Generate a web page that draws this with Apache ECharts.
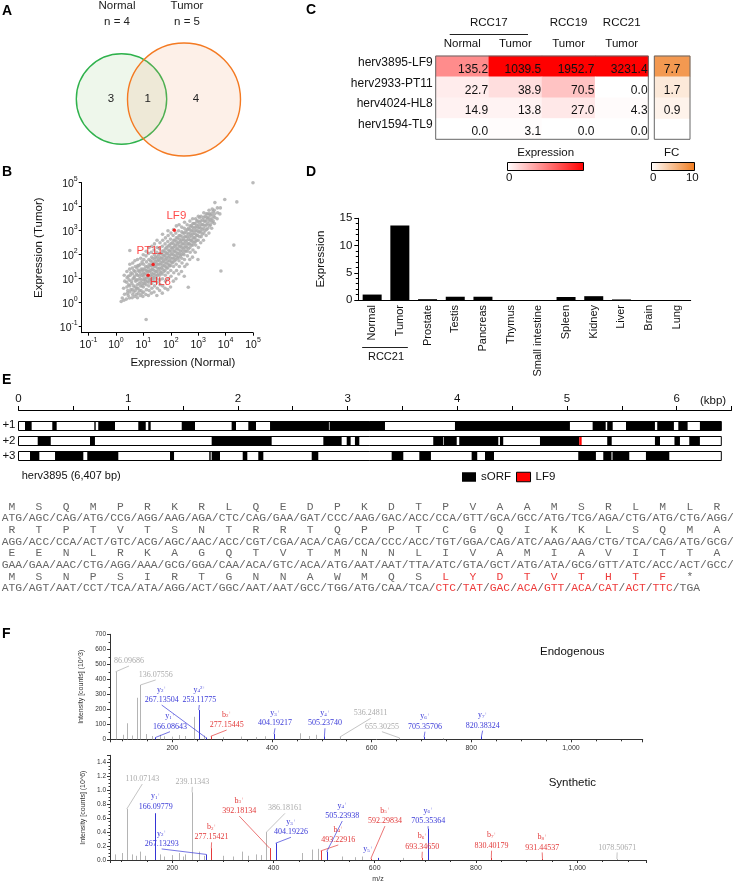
<!DOCTYPE html>
<html><head><meta charset="utf-8"><title>chart</title>
<script src="https://cdn.jsdelivr.net/npm/echarts@6.0.0/dist/echarts.min.js"></script>
<style>html,body{margin:0;padding:0;background:#fff;}#chart{width:740px;height:882px;}</style>
</head><body><div id="chart"></div>
<script>
// ================= DATA =================
// A: Venn
const vennSets = ['Normal', 'Tumor'];
const vennN = [4, 5];
const vennCounts = [3, 1, 4]; // normal only, shared, tumor only

// B: scatter (expression normal, expression tumor)
const bgPoints = [
[1.55,1.12],[1.7,1.58],
[1.95,1.26],[2.05,2.24],[1.9,4.0],[2.1,7.9],[2.0,14],
[2.4,1.41],[2.6,2.5],[2.5,4.5],[2.45,7.1],[2.55,11],[2.5,20],[2.7,3.2],
[3.1,1.58],[3.25,2.8],[3.2,5.0],[3.0,8.9],[3.3,14],[3.15,25],[3.2,40],[3.2,150],
[3.9,1.6],[4.1,2.2],[4.0,3.5],[3.8,6.3],[4.2,10],[4.0,16],[3.95,28],[4.1,45],
[4.9,1.8],[5.1,3.2],[5.0,4.5],[5.2,7.9],[4.8,12.6],[5.0,20],[5.1,32],[4.9,56],
[6.1,1.6],[6.5,2.5],[6.3,4.0],[6.0,5.6],[6.4,8.9],[6.2,14],[6.6,22],[6.3,35],[6.1,63],
[7.7,2.0],[8.2,3.2],[7.9,5.0],[8.1,7.1],[7.6,10],[8.0,16],[8.3,25],[7.8,40],[8.0,71],
[9.6,1.8],[10.3,2.8],[10,4.5],[9.8,6.3],[10.5,8.9],[9.9,12.6],[10.2,17.8],[9.7,25],[10.1,40],[10.4,63],[9.9,100],
[12.3,2.2],[12.9,3.5],[12.6,5.6],[12.0,7.9],[13.1,11],[12.4,15.8],[12.8,22],[12.2,32],[13.0,50],[12.5,89],[12.7,140],[12.6,0.2],
[15.3,2.0],[16.2,3.2],[15.8,5.0],[15.5,7.1],[16.4,10],[15.6,14],[16,20],[15.2,28],[16.5,40],[15.9,63],[15.4,112],[16.1,200],
[19.5,2.5],[20.5,4.0],[20,6.3],[19.2,8.9],[20.8,12.6],[19.8,17.8],[20.3,25],[19.6,35],[20.6,50],[20.1,79],[19.4,126],[20.4,224],
[24.5,2.8],[25.6,5.0],[25,7.9],[24.2,11],[25.9,15.8],[24.8,22],[25.3,32],[24.6,45],[25.7,63],[25.1,100],[24.4,158],[25.4,282],
[31,2.0],[32.3,4.0],[31.6,7.1],[30.8,10],[32.6,14],[31.3,20],[31.9,28],[31.1,40],[32.4,56],[31.7,79],[30.9,126],[32.1,200],[31.5,398],
[39,3.2],[40.8,5.6],[39.8,8.9],[38.9,14],[41,20],[39.4,28],[40.2,40],[39.1,56],[40.6,79],[39.7,112],[38.8,178],[40.4,316],
[49,2.5],[51,5.0],[50,10],[48.7,15.8],[51.5,25],[49.6,35],[50.5,50],[49.2,71],[51.1,100],[50.2,141],[48.9,224],[50.8,398],[50,708],
[62,4.0],[64.5,7.9],[63,14],[61.5,22],[65,32],[62.5,45],[63.7,63],[62.1,89],[64.2,126],[63.3,178],[61.8,282],[64,501],
[78,3.5],[80.5,10],[79,17.8],[77.5,28],[81.2,40],[78.6,56],[80,79],[78.2,112],[80.8,158],[79.5,224],[77.8,355],[80.2,631],[79,1000],
[98,4.5],[102,12.6],[100,22],[97,35],[103,50],[99,71],[101,100],[98.5,141],[102.5,200],[100.5,282],[97.5,447],[101.5,794],
[124,7.9],[129,17.8],[126,32],[122,50],[130,71],[125,100],[127.5,141],[123,200],[128.5,282],[126.5,398],[121.5,631],[127,1122],
[155,10],[162,22],[158,40],[153,63],[163,89],[157,126],[160,178],[154.5,251],[161.5,355],[158.5,501],[152.5,794],[159.5,1585],
[196,15.8],[205,32],[200,56],[193,79],[206,112],[198,158],[202,224],[195,316],[204,447],[200.5,631],[192.5,1000],[201,1778],
[246,20],[257,45],[251,71],[243,100],[259,141],[249,200],[254,282],[245,398],[256,562],[252,891],[250,1413],
[310,12.6],[323,32],[316,63],[306,100],[325,141],[313,200],[319,282],[308,398],[322,562],[315,794],[311,1259],[318,2239],
[390,40],[406,89],[398,141],[386,200],[410,282],[394,398],[401,562],[389,794],[405,1122],[396,1778],[436,4.4],
[491,63],[511,126],[501,200],[486,282],[515,398],[496,562],[505,794],[489,1122],[509,1585],[499,2512],
[619,79],[644,158],[631,251],[612,355],[648,501],[625,708],[636,1000],[616,1413],[641,1995],[628,3162],
[779,126],[810,251],[794,355],[771,501],[816,708],[787,1000],[800,1413],[776,1995],[806,3162],
[980,63],[1020,200],[1000,398],[970,631],[1030,891],[992,1259],[1010,1778],[975,2512],[1015,3981],
[1235,316],[1284,562],[1259,891],[1222,1259],[1297,1778],[1246,2512],[1271,3981],
[1555,398],[1617,794],[1585,1259],[1538,1778],[1632,2512],[1570,3548],[1600,5623],
[1955,631],[2035,1122],[1995,1778],[1936,2512],[2055,3548],[1975,5012],
[2462,794],[2562,1585],[2512,2512],[2437,3548],[2587,5012],[2487,7079],
[3100,1259],[3225,2239],[3162,3162],[3068,5012],[3257,7943],
[3900,1995],[4060,3548],[3981,5012],[3862,7079],[4070,14800],
[4910,3162],[5110,5623],[5012,8913],[6180,5012],[6440,8913],
[6760,21],[9330,19950],[19950,251],[25700,15850],[100000,100000],
[11.2,6.3],[11.4,10],[11,15.8],[11.3,25],[14.1,7.9],[14.4,12.6],[13.9,20],[14.2,32],
[17.8,8.9],[18.1,14],[17.5,22],[17.9,35],[18.2,56],[22.4,10],[22.8,15.8],[22,25],[22.6,40],[22.2,71],
[28.2,12.6],[28.6,20],[27.8,32],[28.4,50],[28,79],[35.5,15.8],[36,25],[35,40],[35.8,63],[35.2,100],
[44.7,17.8],[45.3,28],[44.1,45],[45,71],[44.4,112],[56.2,20],[57,35],[55.5,56],[56.6,89],[55.9,141],
[70.8,28],[71.8,45],[70,71],[71.3,112],[70.4,200],
[89,35],[90,56],[88,89],[89.6,141],[88.5,251],[112,45],[113,71],[111,112],[112.5,178],[111.5,316],
[141,56],[142,89],[140,141],[141.5,224],[140.5,398],[178,71],[179.5,112],[177,178],[178.5,282],[177.5,501],
[224,89],[226,141],[223,224],[225,355],[222,631],[282,112],[284,178],[280,282],[283,447],[281,794],
[355,141],[358,224],[353,355],[356,562],[354,1000],[447,178],[450,282],[445,447],[448,708],[446,1259],
[562,251],[566,398],[559,631],[564,1000],[561,1585],[708,316],[713,501],[704,794],[710,1259],[706,1995],
[891,398],[897,631],[886,1000],[894,1585],[889,2512],[1122,562],[1130,891],[1115,1413],[1126,2239],[1118,3548],
[1413,708],[1422,1122],[1405,1778],[1418,2818],[1778,1000],[1790,1585],[1768,2512],[1784,3981],
[2239,1259],[2254,1995],[2226,3162],[2246,5012],[2818,1778],[2836,2818],[2802,4467],[3548,2512],[3570,3981],[3530,6310],
[2.8,2.0],[2.9,5.6],[2.8,12.6],[3.5,3.5],[3.6,7.9],[3.5,17.8],[4.5,2.8],[4.4,5.0],[4.6,11],[4.5,22],
[5.6,2.2],[5.7,4.0],[5.5,8.9],[5.6,15.8],[5.8,28],[7.1,3.2],[7.0,6.3],[7.2,12.6],[7.1,20],[6.9,35],
[8.9,2.5],[9.0,5.0],[8.8,8.9],[9.1,14],[8.9,22],[9.0,50]
];
const hlNames = ['LF9', 'PT11', 'HL8'];
const hlNormal = [135.2, 22.7, 14.9];
const hlTumor = [1039.5, 38.9, 13.8];

// C: heatmap
const heatRows = ['herv3895-LF9', 'herv2933-PT11', 'herv4024-HL8', 'herv1594-TL9'];
const heatPatients = ['RCC17', 'RCC17', 'RCC19', 'RCC21'];
const heatTissues = ['Normal', 'Tumor', 'Tumor', 'Tumor'];
const heatValues = [
  [135.2, 1039.5, 1952.7, 3231.4],
  [22.7, 38.9, 70.5, 0.0],
  [14.9, 13.8, 27.0, 4.3],
  [0.0, 3.1, 0.0, 0.0]
];
const fcValues = [7.7, 1.7, 0.9, null];
const exprScale = [0, 300];
const fcScale = [0, 10];

// D: bar chart
const tissueNames = ['Normal', 'Tumor', 'Prostate', 'Testis', 'Pancreas', 'Thymus', 'Small intestine', 'Spleen', 'Kidney', 'Liver', 'Brain', 'Lung'];
const tissueExpr = [1.0, 13.7, 0.15, 0.6, 0.6, 0, 0, 0.55, 0.7, 0.1, 0, 0];
const tissueGroupName = 'RCC21';
const tissueGroupMembers = [0, 1];

// E: ORF map (kbp)
const hervName = 'herv3895';
const hervLengthBp = 6407;
const frameNames = ['+1', '+2', '+3'];
const frame1Blocks = [[0.059,0.120],[0.308,0.348],[0.691,0.704],[0.727,0.880],[1.092,1.160],[1.183,1.205],[1.488,1.609],[1.943,1.983],[2.095,2.165],[2.293,2.830],[2.836,3.341],[3.979,5.027],[5.234,5.353],[5.367,5.417],[5.538,5.802],[5.823,5.975],[6.015,6.100],[6.212,6.407]];
const frame2Blocks = [[0.175,0.294],[0.652,0.697],[1.761,2.308],[2.779,2.946],[2.992,3.028],[3.067,3.107],[3.781,3.870],[3.876,3.995],[4.018,4.374],[4.389,4.419],[4.754,5.112],[5.367,5.408],[5.802,5.848],[5.980,6.030],[6.115,6.212]];
const frame3Blocks = [[0.105,0.190],[0.333,0.591],[0.627,0.910],[1.381,1.418],[1.739,1.752],[1.761,1.837],[2.044,2.086],[2.186,2.232],[2.673,2.733],[3.402,3.508],[3.654,3.760],[4.131,4.182],[4.253,4.335],[5.103,5.264],[5.331,5.406],[5.415,5.568],[5.720,5.933]];
const lf9Block = [5.112, 5.134, 2];
const seqAminoRows = ['MSQMPRKRLQEDPKDTPVAAMSRLMLR', 'RTPTVTSNTRRTQPPTCGQIKKLSQMA', 'EENLRKAGQTVTMNNLIVAMIAVITTA', 'MSNPSIRTGNNAWMQSLYDTVTHTF*'];
const seqCodonRows = [
  'ATG AGC CAG ATG CCG AGG AAG AGA CTC CAG GAA GAT CCC AAG GAC ACC CCA GTT GCA GCC ATG TCG AGA CTG ATG CTG AGG',
  'AGG ACC CCA ACT GTC ACG AGC AAC ACC CGT CGA ACA CAG CCA CCC ACC TGT GGA CAG ATC AAG AAG CTG TCA CAG ATG GCG',
  'GAA GAA AAC CTG AGG AAA GCG GGA CAA ACA GTC ACA ATG AAT AAT TTA ATC GTA GCT ATG ATA GCG GTT ATC ACC ACT GCC',
  'ATG AGT AAT CCT TCA ATA AGG ACT GGC AAT AAT GCC TGG ATG CAA TCA CTC TAT GAC ACA GTT ACA CAT ACT TTC TGA'
];
const lf9Row = 3, lf9FirstCodon = 16, lf9LastCodon = 24;

// F: spectra  [m/z, intensity, type(0 unassigned,1 y-ion,2 b-ion)]
const endoPeaks = [[86.10,450,0],[101.07,30,0],[110.07,107,0],[120.08,25,0],[129.10,277,0],[136.08,362,0],[147.11,35,0],[159.09,22,0],[166.09,12,1],[175.12,30,0],[183.15,20,0],[199.11,18,0],[213.09,28,0],[226.12,22,0],[243.13,150,0],[253.12,195,1],[263.14,25,0],[267.14,12,1],[277.15,20,2],[301.13,15,0],[338.17,18,0],[368.18,15,0],[386.18,20,0],[404.19,35,1],[457.23,40,0],[475.21,22,0],[488.22,30,0],[505.24,20,1],[536.25,15,0],[655.30,10,0],[705.36,15,1],[742.40,8,0],[820.38,20,1]];
const endoLabels = [
  [86.10,450,0,'','','','86.09686'],[136.08,362,0,'','','','136.07556'],[166.09,12,1,'y','1','+','166.08643'],
  [267.14,12,1,'y','2','+','267.13504'],[253.12,195,1,'y','4','2+','253.11775'],[277.15,20,2,'b','2','+','277.15445'],
  [404.19,35,1,'y','3','+','404.19217'],[505.24,20,1,'y','4','+','505.23740'],[536.25,15,0,'','','','536.24811'],
  [655.30,10,0,'','','','655.30255'],[705.36,15,1,'y','6','+','705.35706'],[820.38,20,1,'y','7','+','820.38324']
];
const synPeaks = [[86.10,0.08,0],[101.07,0.10,0],[110.07,0.73,0],[120.08,0.08,0],[129.10,0.06,0],[136.08,0.12,0],[147.11,0.06,0],[166.10,0.67,1],[175.12,0.08,0],[183.15,0.05,0],[199.11,0.07,0],[213.09,0.10,0],[222.10,0.05,0],[226.12,0.08,0],[239.11,0.97,0],[253.12,0.12,0],[263.14,0.06,0],[267.13,0.08,1],[277.15,0.17,2],[301.13,0.06,0],[320.20,0.05,0],[338.17,0.12,0],[350.20,0.06,0],[365.20,0.08,0],[375.20,0.07,0],[386.18,0.40,0],[392.18,0.17,2],[404.19,0.24,1],[457.23,0.10,0],[475.21,0.15,0],[488.22,0.16,0],[493.23,0.13,2],[505.24,0.12,1],[536.25,0.05,0],[560.30,0.04,0],[575.30,0.05,0],[592.30,0.02,2],[606.30,0.03,1],[655.30,0.03,0],[693.35,0.03,2],[705.35,0.45,1],[830.40,0.03,2],[931.45,0.02,2],[1078.51,0.015,0]];
const synLabels = [
  [110.07,0.73,0,'','','','110.07143'],[239.11,0.97,0,'','','','239.11343'],[166.10,0.67,1,'y','1','+','166.09779'],
  [267.13,0.08,1,'y','2','+','267.13293'],[277.15,0.17,2,'b','2','+','277.15421'],[392.18,0.17,2,'b','3','+','392.18134'],
  [386.18,0.40,0,'','','','386.18161'],[404.19,0.24,1,'y','3','+','404.19226'],[493.23,0.13,2,'b','4','+','493.22916'],
  [505.24,0.12,1,'y','4','+','505.23938'],[606.30,0.03,1,'y','5','+',''],[592.30,0.02,2,'b','5','+','592.29834'],
  [705.35,0.45,1,'y','6','+','705.35364'],[693.35,0.03,2,'b','6','+','693.34650'],[830.40,0.03,2,'b','7','+','830.40179'],
  [931.45,0.02,2,'b','8','+','931.44537'],[1078.51,0.015,0,'','','','1078.50671']
];

// ================= LAYOUT / STYLE =================
const SANS = '"Liberation Sans", Arial, Helvetica, sans-serif';
const SERIF = '"Liberation Serif", "Times New Roman", serif';
const MONO = '"Liberation Mono", "Courier New", monospace';
const vennLayout = { centers: [[121.5, 99], [184, 99.5]], rPerSample: 11.3, headerX: [117, 187], headerY: [6, 22], countPos: [[111, 99.3], [147.7, 99], [196, 99]],
  stroke: ['#2fb24c', '#f47a22'], fill: ['rgba(120,190,100,0.13)', 'rgba(244,160,110,0.16)'] };
const hlLabelOffsets = [[2, -14], [-3.3, -13.3], [12.3, 6.6]];
const endoLabelPos = [[113.1,522],[166.7,429],[195.4,84],[178.7,262],[254.2,262],[309.1,95],[406.1,107],[506.4,107],[598.1,173],[620.7,84],[707,84],[822.8,91]];
const synLabelPos = [[140.8,1.16],[239.6,1.12],[167.3,0.764],[179.1,0.23],[277.7,0.325],[332.4,0.70],[422.7,0.74],[434.5,0.397],[528,0.287],[535.9,0.63],[586.6,0.007],[620.2,0.557],[705.6,0.557],[694,0.19],[830.9,0.205],[930.9,0.18],[1079,0.18]];
const peakColors = ['#b4b4b4', '#3535d6', '#e53a3a'];
const labelColors = ['#ababab', '#3a3ad8', '#e23a3a'];
const trackThickness = 0.6;

// ================= CHART =================
const chart = echarts.init(document.getElementById('chart'), null, { width: 740, height: 882, renderer: 'canvas' });
const black = { color: '#000', width: 1 };
const hidden = { show: false };

function G(o) { return Object.assign({ containLabel: false, outerBoundsMode: 'none', show: false }, o); }
const grids = [
  G({ left: 0, top: 0, width: 370, height: 190 }),
  G({ left: 81.7, top: 182.7, width: 171.3, height: 150 }),
  G({ left: 435.7, top: 56, width: 212.6, height: 83.3, show: true, z: 6, borderColor: '#666', borderWidth: 1, backgroundColor: 'transparent' }),
  G({ left: 654.3, top: 56, width: 35.7, height: 83.3, show: true, z: 6, borderColor: '#666', borderWidth: 1, backgroundColor: 'transparent' }),
  G({ left: 358.3, top: 218.3, width: 332.4, height: 81.7 }),
  G({ left: 18.5, top: 410, width: 713, height: 61.2 }),
  G({ left: 110, top: 634.3, width: 532.7, height: 105 }),
  G({ left: 110, top: 755.3, width: 536, height: 104.7 })
];

const supRich = {
  b: { fontSize: 10.5, fontFamily: SANS, color: '#111', verticalAlign: 'bottom', lineHeight: 14 },
  s: { fontSize: 7, fontFamily: SANS, color: '#111', verticalAlign: 'top', lineHeight: 8 }
};
function powLabel(v) { return '{b|10}{s|' + Math.round(Math.log10(v)) + '}'; }

const xAxes = [
  { gridIndex: 0, type: 'value', min: 0, max: 370, show: false },
  { gridIndex: 1, type: 'log', logBase: 10, min: 0.0562, max: 100000,
    axisLine: { show: true, onZero: false, lineStyle: black }, axisTick: { show: true, length: 3, lineStyle: black },
    axisLabel: { show: true, margin: 4, showMinLabel: false, formatter: powLabel, rich: supRich },
    splitLine: hidden, minorTick: hidden,
    name: 'Expression (Normal)', nameLocation: 'middle', nameGap: 24,
    nameTextStyle: { fontSize: 11.5, fontFamily: SANS, color: '#111', padding: [0, 0, 0, 31] } },
  { gridIndex: 2, type: 'category', position: 'top', data: heatTissues.map((t, i) => i + ':' + t),
    axisLine: hidden, axisTick: hidden, splitLine: hidden,
    axisLabel: { show: true, interval: 0, margin: 6, fontSize: 11.5, fontFamily: SANS, color: '#111', formatter: v => v.split(':')[1] } },
  { gridIndex: 3, type: 'category', data: ['FC'], show: false },
  { gridIndex: 4, type: 'category', data: tissueNames,
    axisLine: { show: true, onZero: false, lineStyle: black }, axisTick: hidden, splitLine: hidden,
    axisLabel: { show: true, interval: 0, rotate: 90, margin: 5, fontSize: 11, fontFamily: SANS, color: '#111' } },
  { gridIndex: 5, type: 'value', position: 'top', min: 0, max: 6.5, interval: 0.5,
    axisLine: { show: true, onZero: false, lineStyle: black }, axisTick: { show: true, length: 4, lineStyle: black },
    splitLine: hidden,
    axisLabel: { show: true, margin: 5, fontSize: 11.5, fontFamily: SANS, color: '#111', formatter: v => (Math.abs(v - Math.round(v)) < 1e-6 ? String(Math.round(v)) : '') } },
  { gridIndex: 6, type: 'value', min: 75, max: 1144,
    axisLine: { show: true, onZero: false, lineStyle: { color: '#333', width: 1 } }, axisTick: { show: true, length: 3, lineStyle: { color: '#333' } },
    minorTick: { show: true, splitNumber: 4, length: 2, lineStyle: { color: '#333' } }, splitLine: hidden, minorSplitLine: hidden,
    axisLabel: { show: true, margin: 5, fontSize: 7, fontFamily: SANS, color: '#333', showMinLabel: false, showMaxLabel: false } },
  { gridIndex: 7, type: 'value', min: 77, max: 1136,
    axisLine: { show: true, onZero: false, lineStyle: { color: '#333', width: 1 } }, axisTick: { show: true, length: 3, lineStyle: { color: '#333' } },
    minorTick: { show: true, splitNumber: 4, length: 2, lineStyle: { color: '#333' } }, splitLine: hidden, minorSplitLine: hidden,
    axisLabel: { show: true, margin: 5, fontSize: 7, fontFamily: SANS, color: '#333', showMinLabel: false, showMaxLabel: false },
    name: 'm/z', nameLocation: 'middle', nameGap: 16, nameTextStyle: { fontSize: 7, fontFamily: SANS, color: '#333' } }
];
const yAxes = [
  { gridIndex: 0, type: 'value', min: 0, max: 190, inverse: true, show: false },
  { gridIndex: 1, type: 'log', logBase: 10, min: 0.0562, max: 100000,
    axisLine: { show: true, onZero: false, lineStyle: black }, axisTick: { show: true, length: 3, lineStyle: black },
    axisLabel: { show: true, margin: 4, showMinLabel: false, formatter: powLabel, rich: supRich },
    splitLine: hidden, minorTick: hidden,
    name: 'Expression (Tumor)', nameLocation: 'middle', nameGap: 37,
    nameTextStyle: { fontSize: 11.5, fontFamily: SANS, color: '#111', padding: [0, 0, 0, 20] } },
  { gridIndex: 2, type: 'category', inverse: true, data: heatRows,
    axisLine: hidden, axisTick: hidden, splitLine: hidden,
    axisLabel: { show: true, interval: 0, margin: 3, formatter: v => '{a|' + v + '}',
      rich: { a: { fontSize: 12, fontFamily: SANS, color: '#111', padding: [0, 0, 8, 0] } } } },
  { gridIndex: 3, type: 'category', inverse: true, data: heatRows, show: false },
  { gridIndex: 4, type: 'value', min: 0, max: 15, interval: 5,
    axisLine: { show: true, onZero: false, lineStyle: black }, axisTick: { show: true, length: 4, lineStyle: black },
    minorTick: { show: true, splitNumber: 5, length: 2.5, lineStyle: black }, splitLine: hidden, minorSplitLine: hidden,
    axisLabel: { show: true, margin: 6, fontSize: 11.5, fontFamily: SANS, color: '#111' },
    name: 'Expression', nameLocation: 'middle', nameGap: 31, nameTextStyle: { fontSize: 11.5, fontFamily: SANS, color: '#111' } },
  { gridIndex: 5, type: 'value', min: 0, max: 4, interval: 1, inverse: true,
    axisLine: hidden, axisTick: hidden, splitLine: hidden,
    axisLabel: { show: true, margin: 3, fontSize: 11.5, fontFamily: SANS, color: '#111', formatter: v => (v >= 1 && v <= frameNames.length ? frameNames[v - 1] : '') } },
  { gridIndex: 6, type: 'value', min: 0, max: 700, interval: 100,
    axisLine: { show: true, onZero: false, lineStyle: { color: '#333' } }, axisTick: { show: true, length: 3, lineStyle: { color: '#333' } },
    minorTick: { show: true, splitNumber: 2, length: 1.5, lineStyle: { color: '#333' } }, splitLine: hidden, minorSplitLine: hidden,
    axisLabel: { show: true, margin: 4, fontSize: 6.5, fontFamily: SANS, color: '#333' },
    name: 'Intensity [counts] (10^3)', nameLocation: 'middle', nameGap: 19, nameTextStyle: { fontSize: 7, fontFamily: SANS, color: '#333' } },
  { gridIndex: 7, type: 'value', min: 0, max: 1.5, interval: 0.2,
    axisLine: { show: true, onZero: false, lineStyle: { color: '#333' } }, axisTick: { show: true, length: 3, lineStyle: { color: '#333' } },
    minorTick: { show: true, splitNumber: 4, length: 1.5, lineStyle: { color: '#333' } }, splitLine: hidden, minorSplitLine: hidden,
    axisLabel: { show: true, margin: 4, fontSize: 6.5, fontFamily: SANS, color: '#333', showMaxLabel: false, formatter: v => v.toFixed(1) },
    name: 'Intensity [counts] (10^6)', nameLocation: 'middle', nameGap: 19, nameTextStyle: { fontSize: 7, fontFamily: SANS, color: '#333' } }
];

// ---- series ----
const vennTexts = [].concat(
  vennSets.map((s, i) => ({ pos: [vennLayout.headerX[i], vennLayout.headerY[0]], text: s })),
  vennN.map((n, i) => ({ pos: [vennLayout.headerX[i], vennLayout.headerY[1]], text: 'n = ' + n })),
  vennCounts.map((c, i) => ({ pos: vennLayout.countPos[i], text: String(c) }))
);

function trackRender(fill, stroke) {
  return function (params, api) {
    const y = api.value(2);
    const p0 = api.coord([api.value(0), y]);
    const p1 = api.coord([api.value(1), y]);
    const h = api.size([0, trackThickness])[1];
    return { type: 'rect', shape: { x: p0[0], y: Math.round(p1[1] - h / 2) + 0.5, width: Math.max(p1[0] - p0[0], 1), height: Math.round(h) },
      style: { fill: fill, stroke: stroke || null, lineWidth: stroke ? 1 : 0 } };
  };
}
function peakRender(params, api) {
  const p0 = api.coord([api.value(0), 0]);
  const p1 = api.coord([api.value(0), api.value(1)]);
  const x = Math.round(p0[0]) + 0.5;
  return { type: 'line', shape: { x1: x, y1: p0[1], x2: x, y2: p1[1] }, style: { stroke: peakColors[api.value(2)], lineWidth: 1 } };
}
function annRender(labels) {
  return function (params, api) {
    const L = labels[params.dataIndex];
    const col = labelColors[L[2]];
    const lab = api.coord([api.value(0), api.value(1)]);
    const peak = api.coord([L[0], L[1]]);
    const children = [];
    const ex = lab[0], ey = lab[1] + 5;
    if (L[6] && Math.hypot(peak[0] - ex, peak[1] - ey) > 2) {
      children.push({ type: 'line', shape: { x1: peak[0], y1: peak[1], x2: ex, y2: ey }, style: { stroke: col, lineWidth: 0.7 } });
    }
    if (L[6]) children.push({ type: 'text', x: lab[0], y: lab[1], style: { text: L[6], fill: col, fontSize: 8, fontFamily: SERIF, align: 'center', verticalAlign: 'middle' } });
    if (L[3]) children.push({ type: 'text', x: lab[0], y: lab[1] - 10.5, style: {
      text: '{a|' + L[3] + '}{b|' + L[4] + '}{c|' + L[5] + '}', fill: col, align: 'center', verticalAlign: 'middle',
      rich: { a: { fontSize: 8, fontFamily: SERIF, fill: col }, b: { fontSize: 5, fontFamily: SERIF, fill: col, verticalAlign: 'bottom' }, c: { fontSize: 5, fontFamily: SERIF, fill: col, verticalAlign: 'top' } } } });
    return { type: 'group', children: children };
  };
}

const heatData = [];
heatValues.forEach((row, r) => row.forEach((v, c) => heatData.push([c, r, v])));
const fcData = fcValues.map((v, r) => [0, r, v === null ? '-' : v]);
const trackBlocks = [].concat(frame1Blocks.map(b => [b[0], b[1], 1]), frame2Blocks.map(b => [b[0], b[1], 2]), frame3Blocks.map(b => [b[0], b[1], 3]));

const series = [
  { type: 'custom', xAxisIndex: 0, yAxisIndex: 0, silent: true, z: 1,
    data: vennSets.map((s, i) => [vennLayout.centers[i][0], vennLayout.centers[i][1], vennN[i], i]),
    renderItem: function (params, api) {
      const c = api.coord([api.value(0), api.value(1)]);
      const r = api.size([api.value(2) * vennLayout.rPerSample, 0])[0];
      const i = api.value(3);
      return { type: 'circle', shape: { cx: c[0], cy: c[1], r: r }, style: { fill: vennLayout.fill[i], stroke: vennLayout.stroke[i], lineWidth: 1.4 } };
    } },
  { type: 'custom', xAxisIndex: 0, yAxisIndex: 0, silent: true, z: 3,
    data: vennTexts.map(t => t.pos),
    renderItem: function (params, api) {
      const p = api.coord([api.value(0), api.value(1)]);
      return { type: 'text', x: p[0], y: p[1], style: { text: vennTexts[params.dataIndex].text, fontSize: 11.5, fontFamily: SANS, fill: '#222', align: 'center', verticalAlign: 'middle' } };
    } },
  { type: 'scatter', xAxisIndex: 1, yAxisIndex: 1, silent: true, symbol: 'circle', symbolSize: 3.6,
    itemStyle: { color: '#a9a9a9' }, data: bgPoints, z: 2, large: false },
  { type: 'scatter', xAxisIndex: 1, yAxisIndex: 1, silent: true, symbol: 'circle', symbolSize: 3.5, z: 4,
    itemStyle: { color: '#ff0000' },
    data: hlNames.map((n, i) => ({ name: n, value: [hlNormal[i], hlTumor[i]], label: { offset: hlLabelOffsets[i] } })),
    label: { show: true, position: 'inside', formatter: '{b}', color: '#ff1a1a', fontSize: 11.5, fontFamily: SANS } },
  { type: 'heatmap', xAxisIndex: 2, yAxisIndex: 2, silent: true, data: heatData, itemStyle: { borderWidth: 0 },
    label: { show: true, position: 'insideRight', distance: 1, offset: [0, 3], fontSize: 12, fontFamily: SANS, color: '#111',
      formatter: p => Number(p.value[2]).toFixed(1) } },
  { type: 'heatmap', xAxisIndex: 3, yAxisIndex: 3, silent: true, data: fcData, itemStyle: { borderWidth: 0 },
    label: { show: true, position: 'inside', offset: [0, 3], fontSize: 12, fontFamily: SANS, color: '#111',
      formatter: p => (p.value[2] === '-' ? '' : Number(p.value[2]).toFixed(1)) } },
  { type: 'bar', xAxisIndex: 4, yAxisIndex: 4, silent: true, data: tissueExpr, barWidth: 19, itemStyle: { color: '#000' } },
  { type: 'custom', name: 'sORF', xAxisIndex: 5, yAxisIndex: 5, silent: true, z: 2, itemStyle: { color: '#000' },
    data: trackBlocks, renderItem: trackRender('#000', null) },
  { type: 'custom', name: 'LF9', xAxisIndex: 5, yAxisIndex: 5, silent: true, z: 3, itemStyle: { color: '#ff0000' },
    data: [lf9Block], renderItem: trackRender('#ff0000', null) },
  { type: 'custom', name: 'frames', xAxisIndex: 5, yAxisIndex: 5, silent: true, z: 4,
    data: frameNames.map((f, i) => [0, hervLengthBp / 1000, i + 1]), renderItem: trackRender('none', '#000') },
  { type: 'custom', xAxisIndex: 6, yAxisIndex: 6, silent: true, z: 2, data: endoPeaks, renderItem: peakRender },
  { type: 'custom', xAxisIndex: 6, yAxisIndex: 6, silent: true, z: 3, data: endoLabelPos, renderItem: annRender(endoLabels) },
  { type: 'custom', xAxisIndex: 7, yAxisIndex: 7, silent: true, z: 2, data: synPeaks, renderItem: peakRender },
  { type: 'custom', xAxisIndex: 7, yAxisIndex: 7, silent: true, z: 3, data: synLabelPos, renderItem: annRender(synLabels) }
];

const option = {
  animation: false,
  backgroundColor: '#ffffff',
  textStyle: { fontFamily: SANS },
  grid: grids, xAxis: xAxes, yAxis: yAxes, series: series,
  visualMap: [
    { type: 'continuous', show: false, seriesIndex: 4, dimension: 2, min: exprScale[0], max: exprScale[1], inRange: { color: ['#ffffff', '#ff0000'] } },
    { type: 'continuous', show: false, seriesIndex: 5, dimension: 2, min: fcScale[0], max: fcScale[1], inRange: { color: ['#ffffff', '#f07b1d'] } }
  ],
  legend: { show: true, data: [
      { name: 'sORF', icon: 'rect', itemStyle: { color: '#000' } },
      { name: 'LF9', icon: 'rect', itemStyle: { color: '#ff0000', borderColor: '#000', borderWidth: 1 } }],
    left: 462, top: 471, padding: 0, itemWidth: 14, itemHeight: 9.5, itemGap: 5, selectedMode: false, orient: 'horizontal',
    textStyle: { fontSize: 11.5, fontFamily: SANS, color: '#111' } },
  tooltip: { show: false }
};
chart.setOption(option);

// ---- graphics (text, legends, derived positions) ----
function T(text, x, y, o) {
  o = o || {};
  const st = { text: text, fill: o.color || '#111', fontSize: o.size || 11.5, fontFamily: o.family || SANS, fontWeight: o.weight || 'normal',
    align: o.align || 'center', verticalAlign: o.va || 'middle' };
  if (o.rich) st.rich = o.rich;
  return { type: 'text', x: x, y: y, silent: true, z: 10, style: st };
}
const els = [];
[['A', 2, 11], ['B', 2, 172], ['C', 306, 10.5], ['D', 306, 172], ['E', 2, 380], ['F', 2, 634]].forEach(p =>
  els.push(T(p[0], p[1], p[2], { size: 14, weight: 'bold', align: 'left', color: '#000' })));

// C: patient headers from heatmap columns
const colCenter = c => chart.convertToPixel({ gridIndex: 2 }, [c, 0])[0];
const colW = colCenter(1) - colCenter(0);
let gs = 0;
for (let c = 1; c <= heatPatients.length; c++) {
  if (c === heatPatients.length || heatPatients[c] !== heatPatients[gs]) {
    const x0 = colCenter(gs), x1 = colCenter(c - 1);
    const mid = (x0 + x1) / 2;
    els.push(T(heatPatients[gs], mid, 22.7, { size: 11.5 }));
    if (c - 1 > gs) {
      const half = (x1 - x0 + colW) / 2 - 14;
      els.push({ type: 'line', silent: true, z: 10, shape: { x1: mid - half, y1: 34.5, x2: mid + half, y2: 34.5 }, style: { stroke: '#222', lineWidth: 1 } });
    }
    gs = c;
  }
}
// C: colour legends
const grad = (c1, c2) => new echarts.graphic.LinearGradient(0, 0, 1, 0, [{ offset: 0, color: c1 }, { offset: 1, color: c2 }]);
els.push({ type: 'rect', silent: true, z: 10, shape: { x: 507.5, y: 162.5, width: 76, height: 8 }, style: { fill: grad('#ffffff', '#ff0000'), stroke: '#000', lineWidth: 1 } });
els.push({ type: 'rect', silent: true, z: 10, shape: { x: 651.5, y: 162.5, width: 43, height: 8 }, style: { fill: grad('#ffffff', '#f07b1d'), stroke: '#000', lineWidth: 1 } });
els.push(T('Expression', 545.7, 152.7, { size: 11.5 }));
els.push(T(String(exprScale[0]), 509.3, 177.5, { size: 11.5 }));
els.push(T('FC', 671.7, 152.7, { size: 11.5 }));
els.push(T(String(fcScale[0]), 653.3, 177.5, { size: 11.5 }));
els.push(T(String(fcScale[1]), 692.3, 177.5, { size: 11.5 }));

// D: group bracket under Normal / Tumor
const dc0 = chart.convertToPixel({ gridIndex: 4 }, [tissueGroupMembers[0], 0])[0];
const dc1 = chart.convertToPixel({ gridIndex: 4 }, [tissueGroupMembers[tissueGroupMembers.length - 1], 0])[0];
els.push({ type: 'line', silent: true, z: 10, shape: { x1: dc0 - 10, y1: 347.5, x2: dc1 + 8, y2: 347.5 }, style: { stroke: '#222', lineWidth: 1 } });
els.push(T(tissueGroupName, (dc0 + dc1) / 2, 357, { size: 11 }));

// E: texts
els.push(T('(kbp)', 713, 400.7, { size: 11.5 }));
els.push(T(hervName + ' (' + hervLengthBp.toLocaleString('en-US') + ' bp)', 21.7, 475.5, { size: 11, align: 'left' }));
const seqFont = { fontSize: 11.3, fontFamily: MONO };
const seqRich = { g: Object.assign({ fill: '#666' }, seqFont), r: Object.assign({ fill: '#ee3b3b' }, seqFont) };
const aaY = [506.6, 530, 553.3, 576.7], codY = [518.3, 541.7, 565, 588.4];
seqAminoRows.forEach((aaRow, r) => {
  const aa = aaRow.split('');
  const cod = seqCodonRows[r].split(' ');
  const lastRow = r === seqAminoRows.length - 1;
  let aaText = '', codText = '';
  for (let i = 0; i < cod.length; i++) {
    const red = (r === lf9Row && i >= lf9FirstCodon && i <= lf9LastCodon);
    const k = red ? 'r' : 'g';
    aaText += '{' + k + '| ' + aa[i] + '  }';
    codText += '{' + k + '|' + cod[i] + '}';
    if (i < cod.length - 1 || !lastRow) codText += '{g|/}';
  }
  els.push(T(aaText, 1.7, aaY[r], { align: 'left', rich: seqRich, size: 11.3, family: MONO, color: '#666' }));
  els.push(T(codText, 1.7, codY[r], { align: 'left', rich: seqRich, size: 11.3, family: MONO, color: '#666' }));
});
// F: titles
els.push(T('Endogenous', 572.3, 652.3, { size: 11.5 }));
els.push(T('Synthetic', 572.3, 783.3, { size: 11.5 }));

chart.setOption({ graphic: { elements: els } });
</script>
</body></html>
